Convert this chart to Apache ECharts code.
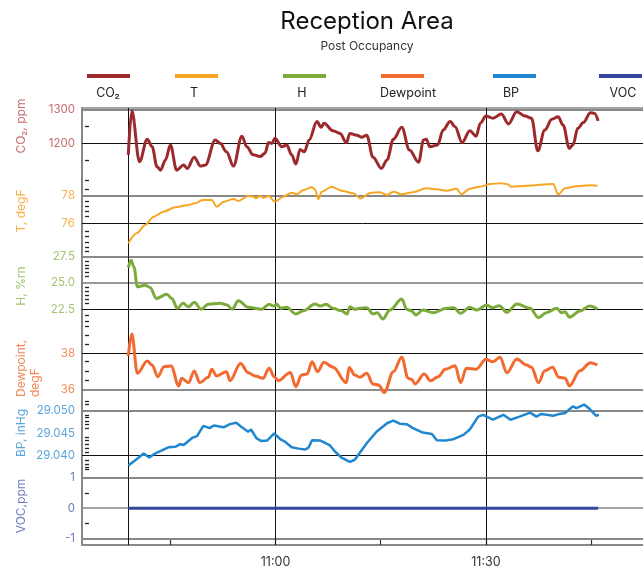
<!DOCTYPE html>
<html><head><meta charset="utf-8">
<script src="https://cdn.jsdelivr.net/npm/echarts@6/dist/echarts.min.js"></script>
<style>html,body{margin:0;padding:0;background:#fff}#c{width:643px;height:569px}</style>
</head><body><div id="c"></div>
<script>
// ---------- data ----------
const seriesNames = ['CO\u2082', 'T', 'H', 'Dewpoint', 'BP', 'VOC'];
const axisNames = ['CO\u2082, ppm', 'T, degF', 'H, %rn', 'Dewpoint,\ndegF', 'BP, inHg', 'VOC,ppm'];
const lineColors = ['#9c2a2c', '#f6a623', '#7cab3c', '#f26a30', '#1f87cf', '#34479c'];
const labelColors = ['#c76a70', '#f7b24e', '#a3c477', '#f3895b', '#5aa5dc', '#6c7cc2'];

// time in minutes of the day (639 = 10:39)
const timeTicks = [645, 660, 675, 690, 705];
const timeLabels = [660, 690];
const verticalLines = [639, 660, 690];

const co2Labels = [1200, 1300];
const tLabels = [76, 78];
const hLabels = [22.5, 25, 27.5];
const dewLabels = [36, 38];
const bpLabels = [29.040, 29.045, 29.050];
const vocLabels = [-1, 0, 1];

const co2Minor = [1250, 1150, 1090, 1065];
const tMinor = [77.57, 77.25, 76.85, 76.5, 75.45, 75.05, 74.65, 74.3, 73.95];
const hMinor = [27.0, 26.68, 26.37, 25.95, 25.58, 24.58, 24.23, 23.85, 23.44, 23.07, 21.9, 21.4, 20.88, 20.08, 19.18];
const dewMinor = [37.54, 37.02, 36.53, 35.4, 35.21];
const bpMinor = [29.04905, 29.04845, 29.0477, 29.04696, 29.04606, 29.04403, 29.04327, 29.04245, 29.04155, 29.04079, 29.03892, 29.03795, 29.03741, 29.03682];
const vocMinor = [0.5, -0.5];

const co2Points = [[639.0,1166],[639.5,1296],[640.6,1146],[641.7,1212],[642.4,1190],[643.1,1131],[643.6,1121],[644.3,1151],[645.0,1195],[645.9,1121],[646.9,1136],[647.4,1126],[648.4,1159],[649.3,1133],[650.0,1136],[651.4,1210],[652.1,1200],[653.0,1175],[654.0,1133],[655.2,1221],[655.9,1190],[656.8,1166],[657.8,1161],[658.5,1171],[659.0,1202],[659.5,1200],[659.9,1215],[660.9,1190],[661.6,1195],[662.3,1166],[662.9,1139],[663.5,1182],[664.1,1175],[664.8,1210],[665.9,1264],[666.5,1247],[666.9,1259],[668.2,1237],[669.2,1229],[670.1,1202],[670.6,1229],[671.6,1224],[672.3,1218],[673.0,1224],[673.9,1159],[675.1,1126],[675.9,1151],[676.8,1212],[678.0,1247],[679.1,1180],[680.4,1144],[681.1,1210],[681.5,1212],[682.0,1190],[683.1,1195],[683.9,1239],[684.9,1264],[685.6,1249],[686.6,1202],[687.7,1237],[688.6,1221],[689.2,1259],[690.0,1280],[691.0,1274],[692.2,1286],[693.2,1257],[694.4,1293],[695.6,1280],[696.5,1274],[697.4,1178],[698.4,1239],[699.4,1271],[700.3,1278],[701.0,1254],[701.9,1185],[702.4,1195],[703.1,1244],[703.9,1261],[704.9,1290],[705.5,1288],[706.0,1266]];

const tPoints = [[639.0,74.55],[640.2,75.28],[641.4,75.88],[642.6,76.48],[644.0,76.84],[645.7,77.16],[647.4,77.30],[648.5,77.45],[649.6,77.69],[650.9,77.69],[651.6,77.20],[652.6,77.57],[654.0,77.76],[654.7,77.62],[656.1,77.98],[656.8,77.93],[657.2,77.81],[657.8,77.98],[658.3,77.86],[659.0,77.98],[659.9,77.57],[661.1,77.93],[662.3,78.22],[663.0,78.10],[664.0,78.41],[665.2,78.61],[665.6,78.46],[666.1,77.74],[666.6,78.29],[668.0,78.65],[669.4,78.36],[671.1,78.17],[672.1,77.80],[673.5,78.20],[674.9,78.25],[675.9,78.05],[676.8,78.29],[678.0,78.10],[679.6,78.25],[681.5,78.54],[683.0,78.46],[684.4,78.36],[685.8,78.51],[686.5,78.10],[687.7,78.51],[689.1,78.65],[690.6,78.85],[692.0,78.90],[693.0,78.85],[693.6,78.65],[695.8,78.72],[699.6,78.85],[700.3,78.10],[701.3,78.54],[702.9,78.68],[704.8,78.75],[705.9,78.72]];

const hPoints = [[639.0,26.44],[639.4,27.12],[639.8,26.5],[640.3,24.62],[641.4,24.78],[642.1,24.56],[643.0,23.53],[644.5,23.91],[645.2,23.53],[646.0,22.59],[646.8,23.06],[647.6,22.74],[648.4,23.16],[649.4,22.5],[650.4,22.97],[652.1,23.06],[653.1,22.9],[653.8,22.5],[654.7,23.31],[656.1,22.69],[658.0,22.5],[659.1,22.97],[659.7,22.81],[660.2,22.97],[660.7,22.59],[661.6,22.69],[662.9,22.06],[664.0,22.37],[665.6,23.0],[666.4,22.81],[667.2,22.97],[668.2,22.59],[669.4,22.37],[670.2,22.06],[670.6,22.74],[671.3,22.5],[672.0,22.59],[673.0,22.65],[673.9,22.06],[674.5,22.18],[675.3,21.59],[676.3,22.43],[678.0,23.47],[678.7,22.5],[679.4,22.34],[680.0,21.97],[681.0,22.43],[682.5,22.18],[684.4,22.59],[685.4,22.65],[686.4,22.12],[687.7,22.69],[688.7,22.43],[690.1,22.9],[691.0,22.65],[691.9,22.84],[693.0,22.22],[694.4,23.0],[696.3,22.59],[697.5,21.71],[698.6,22.18],[700.1,22.59],[700.8,22.18],[701.3,22.27],[701.9,21.75],[703.4,22.34],[704.8,22.81],[705.9,22.53]];

const dewPoints = [[639.0,37.85],[639.5,39.05],[640.3,36.91],[641.7,37.58],[642.4,37.36],[643.2,36.72],[644.1,37.27],[645.1,37.31],[646.2,36.22],[646.6,36.64],[647.6,36.4],[648.4,37.04],[649.2,36.4],[650.4,36.69],[650.9,37.13],[651.6,36.76],[653.0,37.0],[653.5,36.51],[655.0,37.45],[656.1,36.94],[657.1,36.76],[658.2,36.64],[659.1,37.18],[659.8,36.72],[660.4,36.51],[662.1,36.96],[662.9,36.18],[663.7,36.82],[664.5,36.87],[665.2,37.54],[666.0,37.0],[666.9,37.51],[668.2,37.24],[670.1,36.4],[670.5,37.22],[671.3,36.82],[672.0,36.69],[673.0,36.91],[673.9,36.33],[674.7,36.27],[675.5,35.87],[676.8,37.0],[678.0,37.78],[678.9,36.64],[679.4,36.58],[679.9,36.33],[681.2,36.87],[682.1,36.51],[683.2,36.72],[684.2,37.13],[685.6,37.32],[686.4,36.4],[687.2,37.18],[688.6,37.13],[690.0,37.67],[691.0,37.54],[692.0,37.78],[693.0,36.94],[694.4,37.69],[695.8,37.36],[696.5,37.24],[697.5,36.4],[698.4,37.05],[699.5,37.24],[700.4,36.69],[701.3,36.64],[701.9,36.22],[703.4,37.05],[704.9,37.49],[705.9,37.36]];

const bpPoints = [[639.0,29.0377],[640.0,29.0389],[641.2,29.0404],[642.0,29.0395],[642.8,29.0404],[643.8,29.0411],[644.7,29.0418],[645.7,29.0419],[646.4,29.0425],[646.9,29.0423],[648.1,29.0439],[648.8,29.0443],[649.7,29.0466],[650.6,29.0461],[651.2,29.0467],[652.6,29.0463],[653.5,29.0470],[654.4,29.0473],[655.2,29.0463],[656.1,29.0453],[656.5,29.0458],[657.3,29.0438],[658.0,29.0432],[658.8,29.0433],[659.8,29.0449],[660.7,29.0436],[661.4,29.0430],[662.3,29.0418],[663.3,29.0415],[664.2,29.0413],[664.7,29.0417],[665.2,29.0434],[666.4,29.0433],[667.7,29.0423],[668.5,29.0408],[669.4,29.0395],[670.6,29.0385],[671.3,29.0390],[673.0,29.0427],[674.4,29.0453],[675.9,29.0472],[676.8,29.0478],[677.7,29.0471],[678.7,29.0470],[679.6,29.0461],[681.0,29.0451],[682.3,29.0448],[683.0,29.0434],[684.2,29.0433],[685.3,29.0436],[686.8,29.0446],[687.7,29.0458],[688.9,29.0487],[689.6,29.0491],[691.0,29.0480],[692.5,29.0491],[693.5,29.0480],[694.8,29.0487],[696.3,29.0496],[697.2,29.0487],[697.9,29.0493],[699.6,29.0489],[700.5,29.0493],[701.3,29.0495],[702.4,29.0510],[702.9,29.0506],[704.0,29.0514],[704.8,29.0504],[705.7,29.0489],[706.1,29.0491]];

const vocPoints = [[639.0,0],[650.0,0],[660.0,0],[670.0,0],[680.0,0],[690.0,0],[700.0,0],[706.0,0]];

// ---------- layout ----------
const FONT = 'Inter, "Noto Sans", sans-serif';
const X_MIN = 632.4, X_MAX = 712.4;
const panels = [
  {points: co2Points, labels: co2Labels, minor: co2Minor, top: 108, bottom: 195.7, a: [1300, 109.3], b: [1200, 143.3], fmt: v => String(v), width: 3, smooth: 0.35,
   grid: [['#111', 1], ['#888', 2]]},
  {points: tPoints, labels: tLabels, minor: tMinor, top: 195.7, bottom: 256.3, a: [78, 195.7], b: [76, 223.3], fmt: v => String(v), width: 2, smooth: 0.3,
   grid: [['#111', 1], ['#888', 2]]},
  {points: hPoints, labels: hLabels, minor: hMinor, top: 256.3, bottom: 348, a: [27.5, 256.3], b: [22.5, 309.3], fmt: v => v.toFixed(1), width: 3, smooth: 0.35,
   grid: [['#111', 1.2], ['#777', 1.5], ['#888', 2]]},
  {points: dewPoints, labels: dewLabels, minor: dewMinor, top: 348, bottom: 410.8, a: [38, 353.3], b: [36, 390], fmt: v => String(v), width: 3, smooth: 0.35,
   grid: [['#666', 1.5], ['#111', 1.2]]},
  {points: bpPoints, labels: bpLabels, minor: bpMinor, top: 410.8, bottom: 477.7, a: [29.050, 410.8], b: [29.040, 455.3], fmt: v => v.toFixed(3), width: 2.5, smooth: false,
   grid: [['#111', 1.2], ['#444', 1.2], ['#888', 2]]},
  {points: vocPoints, labels: vocLabels, minor: vocMinor, top: 477.7, bottom: 545, a: [1, 477.7], b: [-1, 538.7], fmt: v => String(v), width: 3, smooth: false,
   grid: [['#888', 2], ['#888', 1.5], ['#888', 2]]}
];
const nameLayout = [
  {x: 21, y: 126, align: 'center'}, {x: 21, y: 211, align: 'center'}, {x: 21, y: 286, align: 'center'},
  {x: 28, y: 397, align: 'left'}, {x: 21, y: 433, align: 'center'}, {x: 21, y: 506, align: 'center'}
];
const legendLineX = [87, 175, 283, 381, 493, 599];
const legendTextX = [108, 194, 302, 408, 511, 623];

function fmtTime(v) { const h = Math.floor(v / 60), m = Math.round(v % 60); return h + ':' + (m < 10 ? '0' : '') + m; }

const grids = [{left: 82, right: 0, top: 108, height: 437}];
const xAxes = [
  {gridIndex: 0, type: 'value', min: X_MIN, max: X_MAX, position: 'bottom',
   axisLine: {show: true, lineStyle: {color: '#888', width: 2}},
   axisTick: {show: true, inside: true, length: 6, customValues: timeTicks, lineStyle: {color: '#333', width: 1.2}},
   axisLabel: {customValues: timeLabels, formatter: fmtTime, color: '#333', fontSize: 12.5, fontFamily: FONT, margin: 11},
   splitLine: {show: false}},
  {gridIndex: 0, type: 'value', min: X_MIN, max: X_MAX, position: 'top',
   axisLine: {show: true, lineStyle: {color: '#888', width: 1.5}}, axisTick: {show: false}, axisLabel: {show: false}, splitLine: {show: false}}
];
const yAxes = [
  {gridIndex: 0, type: 'value', min: 0, max: 1, axisLine: {show: true, lineStyle: {color: '#888', width: 2}}, axisTick: {show: false}, axisLabel: {show: false}, splitLine: {show: false}}
];
const series = [];

panels.forEach((p, i) => {
  const k = (p.a[0] - p.b[0]) / (p.a[1] - p.b[1]);
  const yMax = p.a[0] + (p.top - p.a[1]) * k;
  const yMin = p.a[0] + (p.bottom - p.a[1]) * k;
  grids.push({left: 82, right: 0, top: p.top, height: p.bottom - p.top});
  xAxes.push({gridIndex: i + 1, type: 'value', min: X_MIN, max: X_MAX, show: false});
  yAxes.push({gridIndex: i + 1, type: 'value', min: yMin, max: yMax, offset: -3,
    axisLine: {show: false},
    axisTick: {show: true, inside: true, length: 4, customValues: p.minor, lineStyle: {color: '#222', width: 1.3}},
    axisLabel: {customValues: p.labels, formatter: p.fmt, color: labelColors[i], fontSize: 11.5, fontFamily: FONT, margin: 10},
    splitLine: {show: false}});
  const mlData = p.labels.map((v, j) => ({yAxis: v, lineStyle: {color: p.grid[j][0], width: p.grid[j][1], type: 'solid'}}))
    .concat(verticalLines.map(v => ({xAxis: v, lineStyle: {color: '#111', width: 1, type: 'solid'}})));
  series.push({type: 'line', name: seriesNames[i], xAxisIndex: i + 2, yAxisIndex: i + 1, data: p.points, z: 3,
    clip: false, showSymbol: false, smooth: p.smooth, smoothMonotone: 'x',
    lineStyle: {color: lineColors[i], width: p.width}, itemStyle: {color: lineColors[i]},
    markLine: {silent: true, symbol: ['none', 'none'], label: {show: false}, animation: false, z: 1, data: mlData}});
});

const graphics = [];
seriesNames.forEach((n, i) => {
  graphics.push({type: 'rect', x: legendLineX[i], y: 74, shape: {x: 0, y: 0, width: 43, height: 4}, style: {fill: lineColors[i]}, silent: true});
  graphics.push({type: 'text', x: legendTextX[i], y: 93, style: {text: n, fill: '#222', font: '12.5px ' + FONT, textAlign: 'center', textVerticalAlign: 'middle'}, silent: true});
});
axisNames.forEach((n, i) => {
  const L = nameLayout[i];
  graphics.push({type: 'text', x: L.x, y: L.y, rotation: Math.PI / 2,
    style: {text: n, fill: labelColors[i], font: '12px ' + FONT, textAlign: L.align, textVerticalAlign: 'middle', lineHeight: 14}, silent: true});
});

const chart = echarts.init(document.getElementById('c'), null, {renderer: 'canvas'});
chart.setOption({
  animation: false,
  backgroundColor: '#fff',
  title: {text: 'Reception Area', subtext: 'Post Occupancy', left: 362, textAlign: 'center', top: 5, itemGap: 6,
    textStyle: {fontSize: 24, fontWeight: 400, color: '#111', fontFamily: FONT},
    subtextStyle: {fontSize: 12, color: '#333', fontFamily: FONT}},
  grid: grids, xAxis: xAxes, yAxis: yAxes, series: series, graphic: graphics
});
</script></body></html>
